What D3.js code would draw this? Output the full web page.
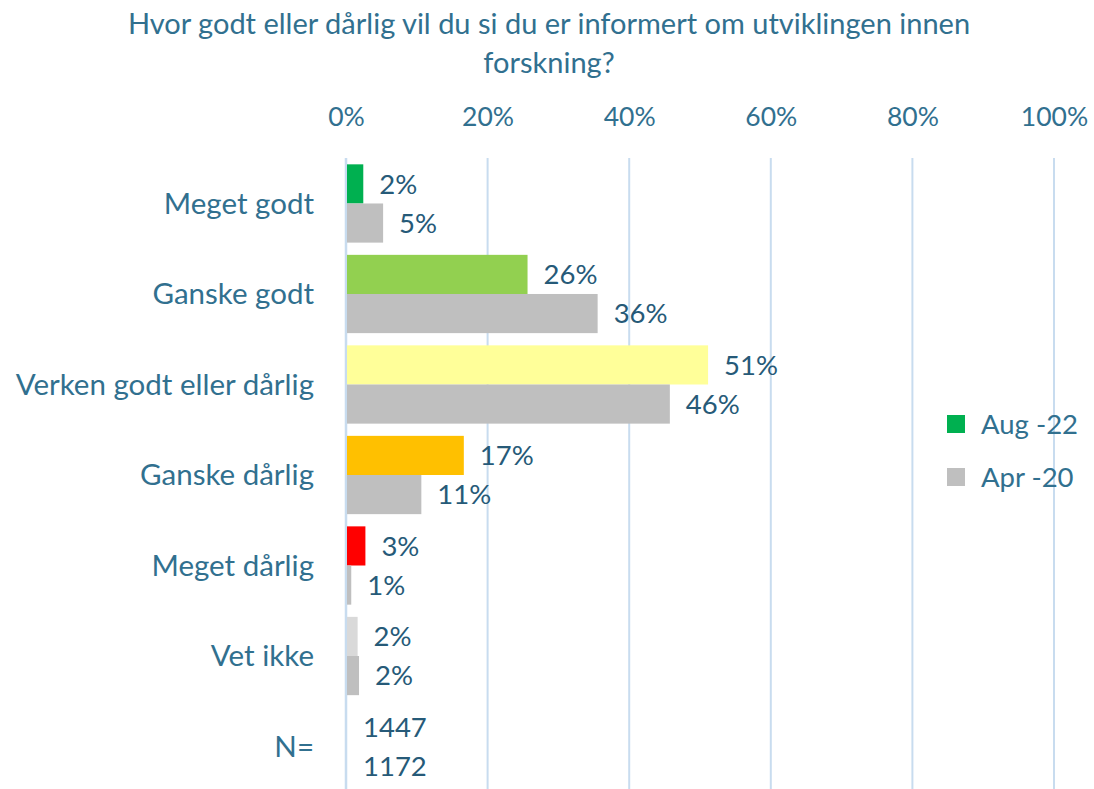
<!DOCTYPE html>
<html>
<head>
<meta charset="utf-8">
<script src="https://cdn.jsdelivr.net/npm/d3@7"></script>
<style>
body{margin:0;background:#fff;}
text{font-family:Lato,"Open Sans",sans-serif;}
</style>
</head>
<body>
<div id="chart"></div>
<script>
var w=1094;
var h=789;

var categories=["Meget godt","Ganske godt","Verken godt eller dårlig","Ganske dårlig","Meget dårlig","Vet ikke","N="];
var aug22=[2.3,25.5,51,16.5,2.6,1.5];
var apr20=[5.1,35.4,45.6,10.5,0.6,1.7];
var augLabels=["2%","26%","51%","17%","3%","2%","1447"];
var aprLabels=["5%","36%","46%","11%","1%","2%","1172"];
var augColors=["#00B050","#92D050","#FFFF99","#FFC000","#FF0000","#D9D9D9"];
var aprColor="#BFBFBF";
var series=["Aug -22","Apr -20"];
var ticks=[0,20,40,60,80,100];
var title=["Hvor godt eller dårlig vil du si du er informert om utviklingen innen","forskning?"];

var labelColor="#31708F";
var valueColor="#265A78";
var gridColor="#C8DCEF";

var svg=d3.select("#chart").append("svg")
 .attr("width",w)
 .attr("height",h);

var xScale=d3.scaleLinear()
 .domain([0,100])
 .range([346,1054]);

var yScale=d3.scaleBand()
 .domain(categories)
 .range([158,792])
 .paddingInner(0.135)
 .paddingOuter(0.07);

var barH=yScale.bandwidth()/2;

//title
svg.selectAll(".title")
 .data(title)
 .enter().append("text")
 .attr("class","title")
 .attr("x",549)
 .attr("y",function(d,i){return 24+i*39;})
 .attr("dy","0.35em")
 .style("text-anchor","middle")
 .style("font-size","29px")
 .style("fill",labelColor)
 .text(function(d){return d;});

//gridlines
svg.selectAll(".grid")
 .data(ticks)
 .enter().append("line")
 .attr("class","grid")
 .attr("x1",function(d){return xScale(d);})
 .attr("x2",function(d){return xScale(d);})
 .attr("y1",158)
 .attr("y2",h)
 .style("stroke",gridColor)
 .style("stroke-width",function(d){return d===0?2.5:2;});

//top axis
var xAxis=svg.append("g")
 .attr("transform","translate(0,117)")
 .call(d3.axisTop(xScale).tickValues(ticks).tickSize(0).tickPadding(0).tickFormat(function(d){return d+"%";}));
xAxis.select(".domain").remove();
xAxis.selectAll("text")
 .attr("dy","0.35em")
 .style("font-family","Lato,'Open Sans',sans-serif")
 .style("font-size","26.5px")
 .style("fill",labelColor);

//category labels
svg.selectAll(".cat")
 .data(categories)
 .enter().append("text")
 .attr("class","cat")
 .attr("x",314)
 .attr("y",function(d){return yScale(d)+yScale.bandwidth()/2;})
 .attr("dy","0.35em")
 .style("text-anchor","end")
 .style("font-size","29.5px")
 .style("fill",labelColor)
 .text(function(d){return d;});

//bars
var groups=categories.slice(0,6);
svg.selectAll(".barAug")
 .data(aug22)
 .enter().append("rect")
 .attr("class","barAug")
 .attr("x",xScale(0)+1)
 .attr("y",function(d,i){return yScale(groups[i]);})
 .attr("width",function(d){return xScale(d)-xScale(0);})
 .attr("height",barH)
 .style("fill",function(d,i){return augColors[i];});

svg.selectAll(".barApr")
 .data(apr20)
 .enter().append("rect")
 .attr("class","barApr")
 .attr("x",xScale(0)+1)
 .attr("y",function(d,i){return yScale(groups[i])+barH;})
 .attr("width",function(d){return xScale(d)-xScale(0);})
 .attr("height",barH)
 .style("fill",aprColor);

//value labels
function addValueLabels(vals,labels,offset,cls){
  svg.selectAll("."+cls)
   .data(labels)
   .enter().append("text")
   .attr("class",cls)
   .attr("x",function(d,i){return xScale(i<vals.length?vals[i]:0)+17;})
   .attr("y",function(d,i){return yScale(categories[i])+offset+barH/2;})
   .attr("dy","0.35em")
   .style("font-size","27.5px")
   .style("fill",valueColor)
   .text(function(d){return d;});
}
addValueLabels(aug22,augLabels,0,"lblAug");
addValueLabels(apr20,aprLabels,barH,"lblApr");

//legend
var legend=svg.selectAll(".legend")
 .data(series)
 .enter().append("g")
 .attr("class","legend")
 .attr("transform",function(d,i){return "translate(947,"+(415+i*53)+")";});
legend.append("rect")
 .attr("width",18)
 .attr("height",18)
 .style("fill",function(d,i){return i===0?augColors[0]:aprColor;});
legend.append("text")
 .attr("x",34)
 .attr("y",9)
 .attr("dy","0.35em")
 .style("font-size","27.5px")
 .style("fill",labelColor)
 .text(function(d){return d;});
</script>
</body>
</html>
